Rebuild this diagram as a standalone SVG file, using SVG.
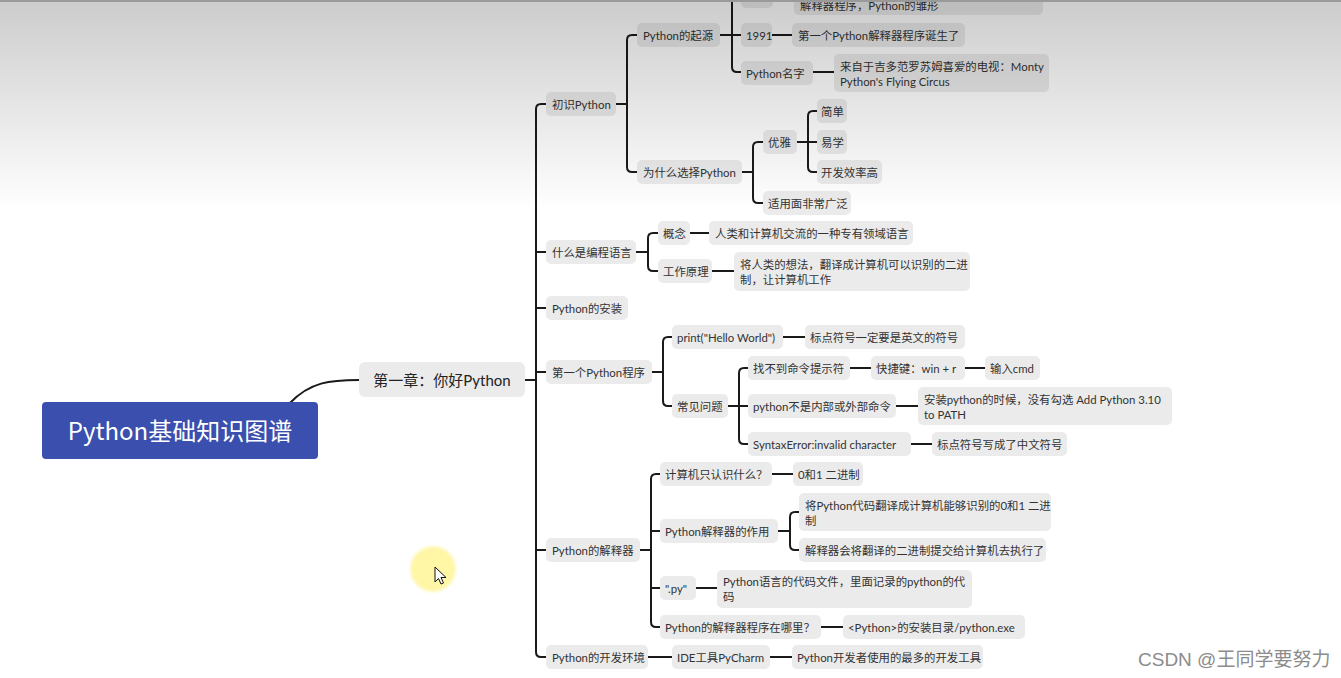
<svg xmlns="http://www.w3.org/2000/svg" width="1341" height="678" viewBox="0 0 1341 678">
<style>
.n rect{fill:#ebebeb}
.t{font-family:"Lato","Noto Sans CJK SC",sans-serif;font-size:11.4px;fill:#333}
.c path{stroke:#1a1a1a;stroke-width:2;fill:none;stroke-linecap:butt}
</style>
<defs>
<linearGradient id="shade" x1="0" y1="0" x2="0" y2="1">
<stop offset="0" stop-color="#000" stop-opacity="0.2"/>
<stop offset="1" stop-color="#000" stop-opacity="0"/>
</linearGradient>
<radialGradient id="glow">
<stop offset="0" stop-color="#fff6a6"/>
<stop offset="0.8" stop-color="#fff6a6"/>
<stop offset="1" stop-color="#fff6a6" stop-opacity="0"/>
</radialGradient>
</defs>
<rect width="1341" height="678" fill="#fff"/>
<g class="c" id="connectors">
<path d="M290,403 C310,382 330,380 359,380"/>
<path d="M525,380 L536,380"/>
<path d="M536,380 L536,109 Q536,104 541,104 L546,104"/>
<path d="M536,380 L536,652 Q536,657 541,657 L546,657"/>
<path d="M536,252 L546,252 M536,308 L546,308 M536,372 L546,372 M536,550 L546,550"/>
<path d="M616,104 L627,104"/>
<path d="M627,104 L627,40 Q627,35 632,35 L637,35"/>
<path d="M627,104 L627,167 Q627,172 632,172 L637,172"/>
<path d="M720,35 L732,35"/>
<path d="M732,35 L732,-10"/>
<path d="M732,35 L741,35"/>
<path d="M732,35 L732,67 Q732,72 737,72 L741,72"/>
<path d="M772,35 L792,35"/>
<path d="M813,72 L834,72"/>
<path d="M742,172 L753,172"/>
<path d="M753,172 L753,147 Q753,142 758,142 L763,142"/>
<path d="M753,172 L753,198 Q753,203 758,203 L763,203"/>
<path d="M797,142 L817,142"/>
<path d="M808,142 L808,116 Q808,111 813,111 L817,111"/>
<path d="M808,142 L808,167 Q808,172 813,172 L817,172"/>
<path d="M636,252 L648,252"/>
<path d="M648,252 L648,238 Q648,233 653,233 L658,233"/>
<path d="M648,252 L648,266 Q648,271 653,271 L658,271"/>
<path d="M690,233 L709,233"/>
<path d="M712,271 L734,271"/>
<path d="M652,372 L663,372"/>
<path d="M663,372 L663,342 Q663,337 668,337 L672,337"/>
<path d="M663,372 L663,401 Q663,406 668,406 L672,406"/>
<path d="M783,337 L805,337"/>
<path d="M728,406 L748,406"/>
<path d="M739,406 L739,373 Q739,368 744,368 L748,368"/>
<path d="M739,406 L739,439 Q739,444 744,444 L748,444"/>
<path d="M850,368 L871,368"/>
<path d="M965,368 L985,368"/>
<path d="M896,406 L918,406"/>
<path d="M911,444 L932,444"/>
<path d="M640,550 L651,550"/>
<path d="M651,550 L651,479 Q651,474 656,474 L660,474"/>
<path d="M651,550 L651,622 Q651,627 656,627 L660,627"/>
<path d="M651,531 L660,531 M651,588 L660,588"/>
<path d="M772,474 L793,474"/>
<path d="M778,531 L790,531"/>
<path d="M790,531 L790,517 Q790,512 795,512 L799,512"/>
<path d="M790,531 L790,545 Q790,550 795,550 L799,550"/>
<path d="M696,588 L717,588"/>
<path d="M821,627 L843,627"/>
<path d="M648,657 L672,657"/>
<path d="M770,657 L792,657"/>
</g>
<g id="root"><rect x="42" y="402" width="276" height="57" rx="4" fill="#3a4fae"/><text x="180" y="440" text-anchor="middle" style="font-family:'Noto Sans CJK SC','Noto Sans',sans-serif;font-size:24px;fill:#fff">Python基础知识图谱</text></g>
<g id="chapter" class="n"><rect x="359" y="362" width="166" height="35" rx="6"/><text x="442" y="385.5" text-anchor="middle" class="t" style="font-size:15px;fill:#222">第一章：你好Python</text></g>
<g id="n1" class="n"><rect x="546" y="92" width="70" height="24" rx="5"/><text class="t" x="552" y="108.5">初识Python</text></g>
<g id="n2" class="n"><rect x="546" y="240" width="90" height="24" rx="5"/><text class="t" x="552" y="256.5">什么是编程语言</text></g>
<g id="n3" class="n"><rect x="546" y="296" width="82" height="24" rx="5"/><text class="t" x="552" y="312.5">Python的安装</text></g>
<g id="n4" class="n"><rect x="546" y="360" width="106" height="24" rx="5"/><text class="t" x="552" y="376.5">第一个Python程序</text></g>
<g id="n5" class="n"><rect x="546" y="538" width="94" height="24" rx="5"/><text class="t" x="552" y="554.5">Python的解释器</text></g>
<g id="n6" class="n"><rect x="546" y="645" width="102" height="24" rx="5"/><text class="t" x="552" y="661.5">Python的开发环境</text></g>
<g id="origin" class="n"><rect x="637" y="23" width="83" height="24" rx="5"/><text class="t" x="643" y="39.5">Python的起源</text></g>
<g id="why" class="n"><rect x="637" y="160" width="105" height="24" rx="5"/><text class="t" x="643" y="176.5">为什么选择Python</text></g>
<g id="year1989" class="n"><rect x="741" y="-16" width="32" height="24" rx="5"/></g>
<g id="origin-desc" class="n"><rect x="794" y="-23" width="249" height="38" rx="5"/><text class="t" x="800" y="10">解释器程序，Python的雏形</text></g>
<g id="year1991" class="n"><rect x="741" y="23" width="31" height="24" rx="5"/><text class="t" x="746" y="39.5">1991</text></g>
<g id="year1991-desc" class="n"><rect x="792" y="23" width="173" height="24" rx="5"/><text class="t" x="798" y="39.5">第一个Python解释器程序诞生了</text></g>
<g id="name" class="n"><rect x="741" y="61" width="72" height="24" rx="5"/><text class="t" x="746" y="77.5">Python名字</text></g>
<g id="name-desc" class="n"><rect x="834" y="54" width="215" height="38" rx="5"/><text class="t" x="840" y="70.5">来自于吉多范罗苏姆喜爱的电视：Monty</text><text class="t" x="840" y="85.5">Python's Flying Circus</text></g>
<g id="elegant" class="n"><rect x="763" y="130" width="34" height="24" rx="5"/><text class="t" x="768" y="146.5">优雅</text></g>
<g id="wide" class="n"><rect x="763" y="191" width="88" height="24" rx="5"/><text class="t" x="768" y="207.5">适用面非常广泛</text></g>
<g id="simple" class="n"><rect x="817" y="99" width="30" height="24" rx="5"/><text class="t" x="821" y="115.5">简单</text></g>
<g id="easy" class="n"><rect x="817" y="130" width="30" height="24" rx="5"/><text class="t" x="821" y="146.5">易学</text></g>
<g id="efficient" class="n"><rect x="817" y="160" width="65" height="24" rx="5"/><text class="t" x="821" y="176.5">开发效率高</text></g>
<g id="concept" class="n"><rect x="658" y="221" width="32" height="24" rx="5"/><text class="t" x="663" y="237.5">概念</text></g>
<g id="concept-desc" class="n"><rect x="709" y="221" width="204" height="24" rx="5"/><text class="t" x="715" y="237.5">人类和计算机交流的一种专有领域语言</text></g>
<g id="principle" class="n"><rect x="658" y="259" width="54" height="24" rx="5"/><text class="t" x="663" y="275.5">工作原理</text></g>
<g id="principle-desc" class="n"><rect x="734" y="252" width="236" height="39" rx="5"/><text class="t" x="740" y="268.5">将人类的想法，翻译成计算机可以识别的二进</text><text class="t" x="740" y="283.5">制，让计算机工作</text></g>
<g id="print" class="n"><rect x="672" y="325" width="111" height="24" rx="5"/><text class="t" x="677" y="341.5">print("Hello World")</text></g>
<g id="print-desc" class="n"><rect x="805" y="325" width="160" height="24" rx="5"/><text class="t" x="810" y="341.5">标点符号一定要是英文的符号</text></g>
<g id="faq" class="n"><rect x="672" y="394" width="56" height="24" rx="5"/><text class="t" x="677" y="410.5">常见问题</text></g>
<g id="q1" class="n"><rect x="748" y="356" width="102" height="24" rx="5"/><text class="t" x="753" y="372.5">找不到命令提示符</text></g>
<g id="q1-a" class="n"><rect x="871" y="356" width="94" height="24" rx="5"/><text class="t" x="876" y="372.5">快捷键：win + r</text></g>
<g id="q1-b" class="n"><rect x="985" y="356" width="55" height="24" rx="5"/><text class="t" x="990" y="372.5">输入cmd</text></g>
<g id="q2" class="n"><rect x="748" y="394" width="148" height="24" rx="5"/><text class="t" x="753" y="410.5">python不是内部或外部命令</text></g>
<g id="q2-a" class="n"><rect x="918" y="387" width="254" height="38" rx="5"/><text class="t" x="924" y="403.5">安装python的时候，没有勾选 Add Python 3.10</text><text class="t" x="924" y="418.5">to PATH</text></g>
<g id="q3" class="n"><rect x="748" y="432" width="163" height="24" rx="5"/><text class="t" x="753" y="448.5">SyntaxError:invalid character</text></g>
<g id="q3-a" class="n"><rect x="932" y="432" width="135" height="24" rx="5"/><text class="t" x="937" y="448.5">标点符号写成了中文符号</text></g>
<g id="i1" class="n"><rect x="660" y="462" width="112" height="24" rx="5"/><text class="t" x="665" y="478.5">计算机只认识什么？</text></g>
<g id="i1-a" class="n"><rect x="793" y="462" width="70" height="24" rx="5"/><text class="t" x="798" y="478.5">0和1 二进制</text></g>
<g id="i2" class="n"><rect x="660" y="519" width="118" height="24" rx="5"/><text class="t" x="665" y="535.5">Python解释器的作用</text></g>
<g id="i2-a" class="n"><rect x="799" y="493" width="252" height="38" rx="5"/><text class="t" x="805" y="509.5">将Python代码翻译成计算机能够识别的0和1 二进</text><text class="t" x="805" y="524.5">制</text></g>
<g id="i2-b" class="n"><rect x="799" y="538" width="247" height="24" rx="5"/><text class="t" x="805" y="554.5">解释器会将翻译的二进制提交给计算机去执行了</text></g>
<g id="i3" class="n"><rect x="660" y="576" width="36" height="24" rx="5"/><text class="t" x="665" y="592.5">".py"</text></g>
<g id="i3-a" class="n"><rect x="717" y="570" width="255" height="38" rx="5"/><text class="t" x="723" y="585.5">Python语言的代码文件，里面记录的python的代</text><text class="t" x="723" y="600.5">码</text></g>
<g id="i4" class="n"><rect x="660" y="615" width="161" height="24" rx="5"/><text class="t" x="665" y="631.5">Python的解释器程序在哪里？</text></g>
<g id="i4-a" class="n"><rect x="843" y="615" width="182" height="24" rx="5"/><text class="t" x="848" y="631.5">&lt;Python&gt;的安装目录/python.exe</text></g>
<g id="ide" class="n"><rect x="672" y="645" width="98" height="24" rx="5"/><text class="t" x="677" y="661.5">IDE工具PyCharm</text></g>
<g id="ide-a" class="n"><rect x="792" y="645" width="191" height="24" rx="5"/><text class="t" x="797" y="661.5">Python开发者使用的最多的开发工具</text></g>
<rect x="0" y="0" width="1341" height="210" fill="url(#shade)"/>
<rect x="0" y="0" width="1341" height="2" fill="#9a9a9a"/>
<g id="cursor">
<circle cx="433" cy="569" r="25" fill="url(#glow)"/>
<polygon points="435,567 435,582 438.5,578.5 441,584 443.5,583 441,577.5 446,577.5" fill="#fff" stroke="#111" stroke-width="1" stroke-linejoin="round"/>
</g>
<text x="1138" y="666" style="font-family:'Liberation Sans','Noto Sans CJK SC',sans-serif;font-size:19px;fill:#8c8c8c">CSDN @王同学要努力</text>
</svg>
